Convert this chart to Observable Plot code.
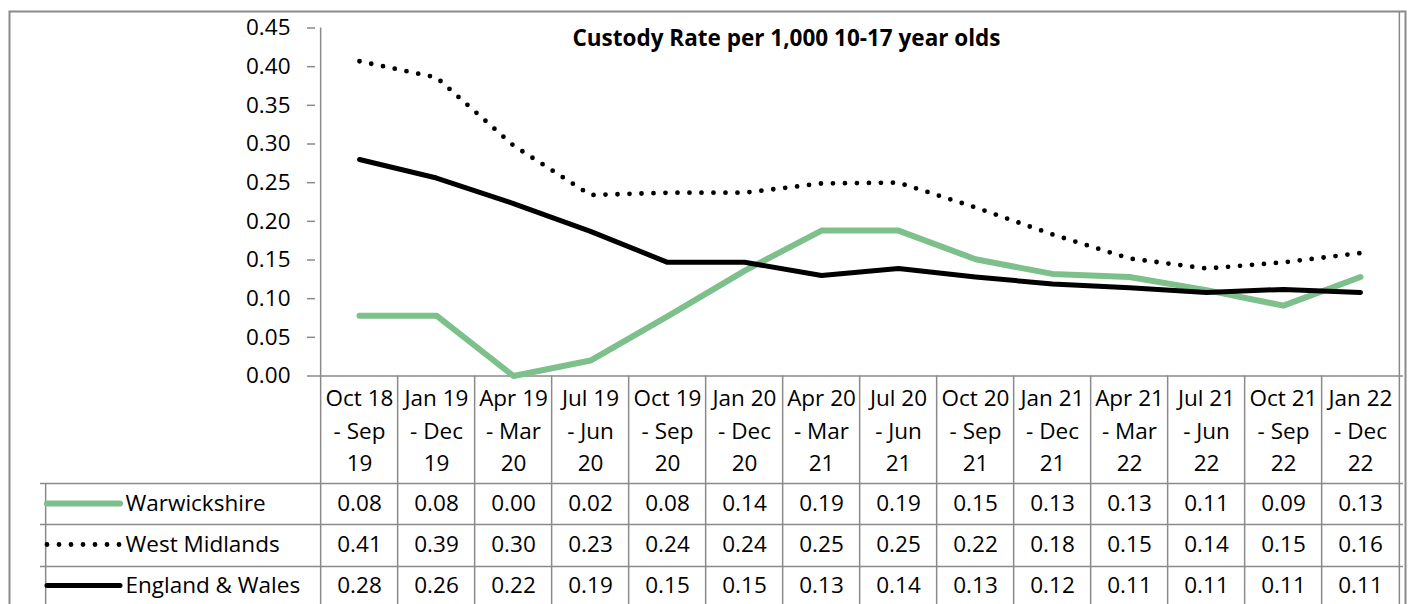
<!DOCTYPE html>
<html><head><meta charset="utf-8">
<script src="https://cdn.jsdelivr.net/npm/d3@7"></script>
<script src="https://cdn.jsdelivr.net/npm/@observablehq/plot@0.6"></script>
<style>
body{margin:0;background:#fff;}
#chart{position:relative;width:1409px;height:604px;overflow:hidden;}
</style>
</head><body><div id="chart"></div>
<script>
// ---- data ----
const title = "Custody Rate per 1,000 10-17 year olds";
const categories = [
  "Oct 18\n- Sep\n19", "Jan 19\n- Dec\n19", "Apr 19\n- Mar\n20", "Jul 19\n- Jun\n20",
  "Oct 19\n- Sep\n20", "Jan 20\n- Dec\n20", "Apr 20\n- Mar\n21", "Jul 20\n- Jun\n21",
  "Oct 20\n- Sep\n21", "Jan 21\n- Dec\n21", "Apr 21\n- Mar\n22", "Jul 21\n- Jun\n22",
  "Oct 21\n- Sep\n22", "Jan 22\n- Dec\n22"
];
const seriesNames = ["Warwickshire", "West Midlands", "England & Wales"];
const warwickshire = [0.078, 0.078, 0.0, 0.02, 0.077, 0.136, 0.188, 0.188, 0.151, 0.132, 0.128, 0.111, 0.091, 0.128];
const westMidlands = [0.407, 0.386, 0.298, 0.234, 0.237, 0.237, 0.249, 0.25, 0.218, 0.183, 0.152, 0.139, 0.147, 0.159];
const englandWales = [0.28, 0.256, 0.223, 0.187, 0.147, 0.147, 0.130, 0.139, 0.128, 0.119, 0.114, 0.108, 0.112, 0.108];
const yTicks = [0, 0.05, 0.10, 0.15, 0.20, 0.25, 0.30, 0.35, 0.40, 0.45];

// ---- layout / style ----
const W = 1409, H = 604;
const pLeft = 315, pRight = 1403, pTop = 27.5, pBottom = 375.5;
const step = (pRight - pLeft) / categories.length;
const gray = "#8a8a8a";
const font = "Open Sans";
const fs = 22.5;
const rowY = [503, 544, 585];
const styles = [
  {stroke: "#7DC08B", strokeWidth: 6, strokeLinecap: "round", strokeLinejoin: "round"},
  {stroke: "#000", strokeWidth: 4.8, strokeDasharray: "0 12", strokeLinecap: "round"},
  {stroke: "#000", strokeWidth: 5, strokeLinecap: "round", strokeLinejoin: "round"}
];
const series = [warwickshire, westMidlands, englandWales];

const marks = [];
// outer chart border
marks.push(Plot.frame({stroke: gray, strokeWidth: 2, insetTop: -(pTop - 11), insetLeft: -(pLeft - 9), insetRight: -2, insetBottom: -260}));
// title
marks.push(Plot.text([title], {frameAnchor: "top", dx: 786 - (pLeft + pRight) / 2, dy: 38 - pTop, lineAnchor: "middle", fontSize: fs, fontWeight: "bold", fill: "#000"}));
// y axis
marks.push(Plot.axisY({ticks: yTicks, tickFormat: d => d.toFixed(2), tickSize: 8, tickPadding: 17, fontSize: fs, stroke: gray, fill: "#000", strokeWidth: 1.5}));
// axis line at left & table column boundaries
marks.push(Plot.ruleX([categories[0]], {x: d => d, dx: -step / 2, insetBottom: -240, stroke: gray, strokeWidth: 1.5}));
marks.push(Plot.ruleX(categories.slice(1), {x: d => d, dx: -step / 2, insetTop: pBottom - pTop, insetBottom: -240, stroke: gray, strokeWidth: 1.5}));
marks.push(Plot.ruleX([categories[categories.length - 1]], {x: d => d, dx: step / 2, insetBottom: -240, insetTop: -(pTop - 11), stroke: gray, strokeWidth: 1.5}));
// x axis line
marks.push(Plot.ruleY([0], {stroke: gray, strokeWidth: 1.5}));
// table horizontal lines
for (const yy of [483, 524, 566]) {
  marks.push(Plot.ruleY([0], {dy: yy - pBottom, insetLeft: -(pLeft - 40), stroke: gray, strokeWidth: 1.5}));
}
// legend cell left border
marks.push(Plot.ruleX([categories[0]], {x: d => d, dx: -step / 2 - (pLeft - 40), insetTop: 483 - pTop, insetBottom: -240, stroke: gray, strokeWidth: 1.5}));
// header labels
marks.push(Plot.text(categories, {x: d => d, frameAnchor: "bottom", dy: 428 - pBottom, fontSize: fs, lineHeight: 32.5 / fs, lineAnchor: "middle", fill: "#000"}));
// data rows + legend
series.forEach((vals, i) => {
  marks.push(Plot.text(vals, {x: (d, j) => categories[j], text: d => d.toFixed(2), frameAnchor: "bottom", dy: rowY[i] - pBottom, fontSize: fs, lineAnchor: "middle", fill: "#000"}));
  marks.push(Plot.ruleY([0], {dy: rowY[i] - pBottom, insetLeft: -(pLeft - 47), insetRight: pRight - 120, ...styles[i]}));
  marks.push(Plot.text([seriesNames[i]], {frameAnchor: "bottom-left", dx: 125 - pLeft, dy: rowY[i] - pBottom, textAnchor: "start", lineAnchor: "middle", fontSize: fs, fill: "#000"}));
});
// data lines
series.forEach((vals, i) => {
  marks.push(Plot.lineY(vals, {x: (d, j) => categories[j], y: d => d, ...styles[i]}));
});

const chart = Plot.plot({
  width: W, height: H,
  marginLeft: pLeft, marginRight: W - pRight, marginTop: pTop, marginBottom: H - pBottom,
  style: {fontFamily: font, background: "#fff", color: "#000"},
  x: {type: "point", domain: categories, padding: 0.5, align: 0.5, axis: null},
  y: {type: "linear", domain: [0, 0.45], axis: null},
  marks
});
document.getElementById("chart").appendChild(chart);
</script>
</body></html>
